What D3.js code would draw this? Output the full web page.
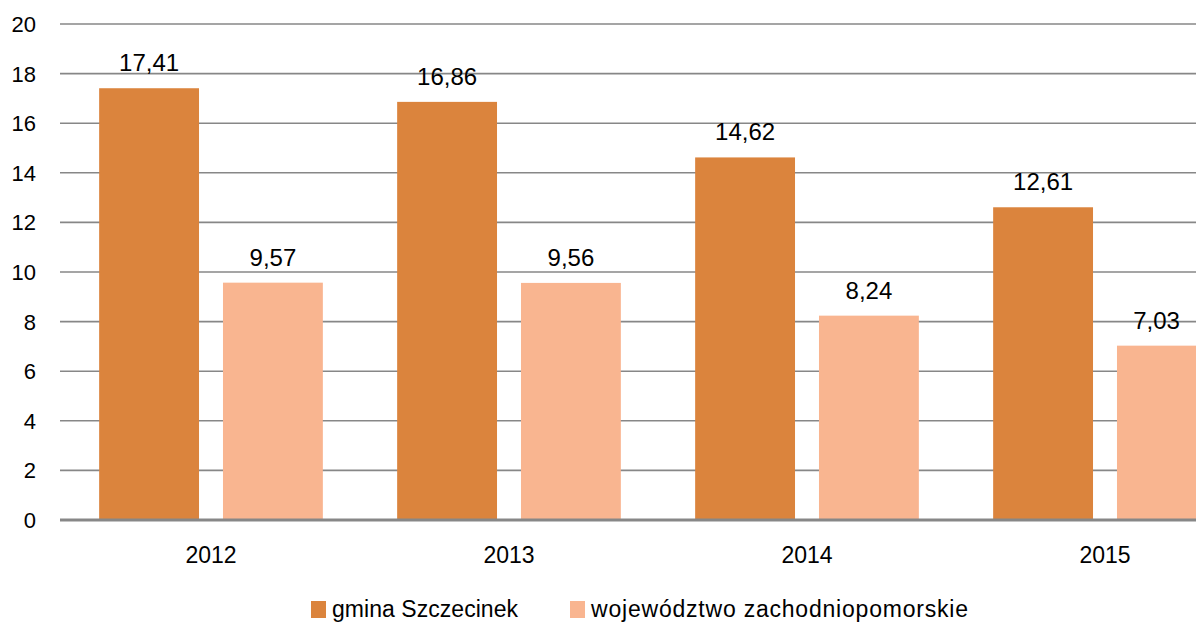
<!DOCTYPE html>
<html>
<head>
<meta charset="utf-8">
<script src="https://cdn.jsdelivr.net/npm/d3@7"></script>
<style>
  body { margin: 0; background: #fff; }
  svg { display: block; font-family: "Liberation Sans", Arial, sans-serif; }
</style>
</head>
<body>
<div id="chart"></div>
<script>
// chart data
const YEARS = ["2012", "2013", "2014", "2015"];
const SERIES = ["gmina Szczecinek", "województwo zachodniopomorskie"];
const GMINA = [17.41, 16.86, 14.62, 12.61];
const WOJ = [9.57, 9.56, 8.24, 7.03];
const Y_TICKS = [0, 2, 4, 6, 8, 10, 12, 14, 16, 18, 20];
const COLORS = ["#db843d", "#f9b590"];

const W = 1196, H = 622;
const MARGIN = {top: 24, left: 60, bottom: 102};
const BAND_LEFT = 62, BAND_RIGHT = 1254; // plot area runs past the right edge in the original

const svg = d3.select("#chart")
  .append("svg")
    .attr("width", W)
    .attr("height", H);

const x = d3.scaleBand()
    .domain(YEARS)
    .range([BAND_LEFT, BAND_RIGHT])
    .paddingInner(0)
    .paddingOuter(0);

const xs = d3.scaleBand()
    .domain(SERIES)
    .range([0, x.bandwidth()])
    .paddingInner(0.1935)
    .paddingOuter(0.3);

const y = d3.scaleLinear()
    .domain([0, 20])
    .range([H - MARGIN.bottom, MARGIN.top]);

// gridlines
svg.append("g")
  .selectAll("line")
  .data(Y_TICKS.filter(d => d > 0))
  .join("line")
    .attr("x1", MARGIN.left)
    .attr("x2", W)
    .attr("y1", d => y(d))
    .attr("y2", d => y(d))
    .attr("stroke", "#878787")
    .attr("stroke-width", 1.6);

// y tick labels
svg.append("g")
  .selectAll("text")
  .data(Y_TICKS)
  .join("text")
    .attr("x", 36)
    .attr("y", d => y(d) + 8)
    .attr("text-anchor", "end")
    .attr("font-size", 22)
    .attr("fill", "#000")
    .text(d => d);

const rows = YEARS.map((yr, i) => ({year: yr, values: [GMINA[i], WOJ[i]]}));

const groups = svg.append("g")
  .selectAll("g")
  .data(rows)
  .join("g")
    .attr("transform", d => "translate(" + x(d.year) + ",0)");

groups.selectAll("rect")
  .data(d => d.values.map((v, j) => ({s: SERIES[j], v: v, j: j, year: d.year})))
  .join("rect")
    .attr("x", d => xs(d.s))
    .attr("width", xs.bandwidth())
    .attr("y", d => y(d.v))
    .attr("height", d => y(0) - y(d.v))
    .attr("fill", d => COLORS[d.j]);

// value labels, centred on the visible part of the bar
groups.selectAll("text")
  .data(d => d.values.map((v, j) => ({s: SERIES[j], v: v, j: j, year: d.year})))
  .join("text")
    .attr("x", d => {
      const x0 = x(d.year) + xs(d.s);
      const x1 = Math.min(x0 + xs.bandwidth(), W);
      return (x0 + x1) / 2 - x(d.year);
    })
    .attr("y", d => y(d.v) - 17)
    .attr("text-anchor", "middle")
    .attr("font-size", 24)
    .attr("fill", "#000")
    .text(d => d3.format(".2f")(d.v).replace(".", ","));

// zero axis line
svg.append("line")
    .attr("x1", MARGIN.left)
    .attr("x2", W)
    .attr("y1", y(0))
    .attr("y2", y(0))
    .attr("stroke", "#878787")
    .attr("stroke-width", 3);

// year labels
svg.append("g")
  .selectAll("text")
  .data(YEARS)
  .join("text")
    .attr("x", d => x(d) + x.bandwidth() / 2)
    .attr("y", 563)
    .attr("text-anchor", "middle")
    .attr("font-size", 23)
    .attr("fill", "#000")
    .text(d => d);

// legend
const legendX = [311, 570];
const legendLen = [186, 377];
const legend = svg.append("g")
  .selectAll("g")
  .data(SERIES)
  .join("g")
    .attr("transform", (d, i) => "translate(" + legendX[i] + ",601)");

legend.append("rect")
    .attr("width", 15)
    .attr("height", 17)
    .attr("fill", (d, i) => COLORS[i]);

legend.append("text")
    .attr("x", 21)
    .attr("y", 16)
    .attr("font-size", 23)
    .attr("fill", "#000")
    .attr("textLength", (d, i) => legendLen[i])
    .attr("lengthAdjust", "spacing")
    .text(d => d);
</script>
</body>
</html>
